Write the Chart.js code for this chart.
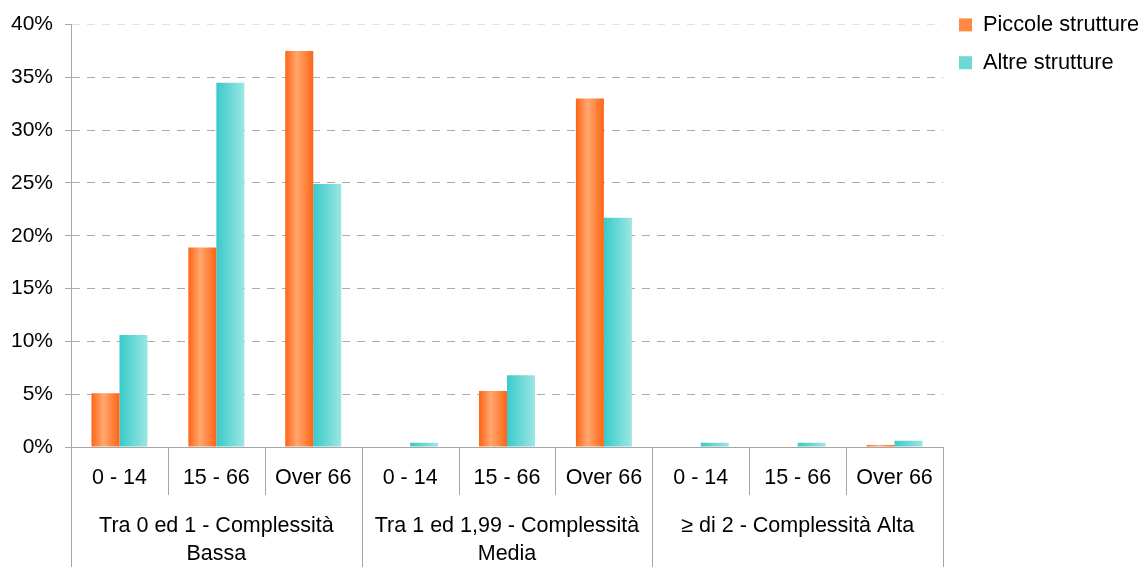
<!DOCTYPE html>
<html lang="it">
<head>
<meta charset="utf-8">
<title>Distribuzione per complessità e fascia d'età</title>
<script src="https://cdn.jsdelivr.net/npm/chart.js@4.4.1/dist/chart.umd.min.js"></script>
<style>
  html, body { margin: 0; padding: 0; background: #ffffff; }
  #wrap { width: 1141px; height: 567px; position: relative; }
</style>
</head>
<body>
<div id="wrap"><canvas id="chart"></canvas></div>
<script>
// Age bands, repeated inside each complexity group
const ageBands = ['0 - 14', '15 - 66', 'Over 66', '0 - 14', '15 - 66', 'Over 66', '0 - 14', '15 - 66', 'Over 66'];
// Complexity groups (second label row)
const complexityGroups = [
  ['Tra 0 ed 1 - Complessità', 'Bassa'],
  ['Tra 1 ed 1,99 - Complessità', 'Media'],
  '≥ di 2 - Complessità Alta'
];
// Shares, in percent
const piccoleStrutture = [5.1, 18.9, 37.5, 0, 5.3, 33.0, 0, 0, 0.2];
const altreStrutture   = [10.6, 34.5, 24.9, 0.4, 6.8, 21.7, 0.4, 0.4, 0.6];
const seriesNames = ['Piccole strutture', 'Altre strutture'];
// Y axis range and step, in percent
const yMin = 0, yMax = 40, yStep = 5;

const FONT = "'Liberation Sans', Arial, sans-serif";
const AXIS_GREY = '#a6a6a6';
const BANDS_PER_GROUP = 3;

// Horizontal shading for each bar (cylinder-like highlight)
const orangeShade = [[0, '#ff6414'], [0.42, '#ffa86f'], [1, '#ff6414']];
const cyanShade   = [[0, '#38caca'], [1, '#9ce7e4']];

const barShade = {
  id: 'barShade',
  beforeDatasetsDraw(chart) {
    const ctx = chart.ctx;
    chart.data.datasets.forEach((ds, di) => {
      const stops = di === 0 ? orangeShade : cyanShade;
      chart.getDatasetMeta(di).data.forEach(bar => {
        const l = bar.x - bar.width / 2, r = bar.x + bar.width / 2;
        const g = ctx.createLinearGradient(l, 0, r, 0);
        stops.forEach(([s, c]) => g.addColorStop(s, c));
        bar.options = Object.assign({}, bar.options, { backgroundColor: g });
      });
    });
  }
};

// Category separators below the axis: short ones between age bands,
// full-height ones between complexity groups.
const categoryDividers = {
  id: 'categoryDividers',
  afterDraw(chart) {
    const xs = chart.scales.x, xg = chart.scales.x2;
    const ctx = chart.ctx;
    const n = xs.ticks.length;
    const half = (xs.getPixelForValue(1) - xs.getPixelForValue(0)) / 2;
    ctx.save();
    ctx.strokeStyle = AXIS_GREY;
    ctx.lineWidth = 1;
    for (let i = 0; i <= n; i++) {
      const px = Math.round(i < n ? xs.getPixelForValue(i) - half : xs.getPixelForValue(n - 1) + half) + 0.5;
      const bottom = i % BANDS_PER_GROUP === 0 ? xg.bottom : xs.bottom;
      ctx.beginPath();
      ctx.moveTo(px, xs.top);
      ctx.lineTo(px, bottom);
      ctx.stroke();
    }
    ctx.restore();
  }
};

new Chart(document.getElementById('chart'), {
  type: 'bar',
  data: {
    labels: ageBands,
    datasets: [
      { label: seriesNames[0], data: piccoleStrutture, backgroundColor: '#ff8843', borderWidth: 0 },
      { label: seriesNames[1], data: altreStrutture, backgroundColor: '#6dd8d6', borderWidth: 0 }
    ]
  },
  plugins: [barShade, categoryDividers],
  options: {
    responsive: true,
    maintainAspectRatio: false,
    animation: false,
    devicePixelRatio: 1,
    layout: { padding: { top: -2, left: -1, right: 0, bottom: 0 } },
    datasets: { bar: { categoryPercentage: 0.578, barPercentage: 1 } },
    plugins: {
      tooltip: { enabled: false },
      title: {
        display: true, text: ' ', fullSize: false, padding: 0,
        font: { family: FONT, size: 10, lineHeight: '25px' }
      },
      legend: {
        position: 'right',
        align: 'start',
        maxWidth: 198,
        labels: {
          boxWidth: 13, boxHeight: 13, padding: 16,
          color: '#000000',
          font: { family: FONT, size: 21.8 }
        }
      }
    },
    scales: {
      x: {
        position: 'bottom',
        weight: 0,
        offset: true,
        grid: {
          offset: true, drawOnChartArea: false, drawTicks: true,
          tickLength: 14, tickColor: 'rgba(0,0,0,0)', color: 'rgba(0,0,0,0)', lineWidth: 1
        },
        border: { display: true, color: AXIS_GREY, width: 1 },
        ticks: {
          color: '#000000', autoSkip: false, maxRotation: 0, minRotation: 0,
          padding: 0,
          font: { family: FONT, size: 21.5, lineHeight: '34px' }
        }
      },
      x2: {
        type: 'category',
        position: 'bottom',
        weight: 1,
        labels: complexityGroups,
        offset: true,
        grid: {
          offset: true, drawOnChartArea: false, drawTicks: true,
          tickLength: 18, tickColor: 'rgba(0,0,0,0)', color: 'rgba(0,0,0,0)', lineWidth: 1
        },
        border: { display: false },
        ticks: {
          color: '#000000', autoSkip: false, maxRotation: 0, minRotation: 0,
          padding: -1,
          font: { family: FONT, size: 21.5, lineHeight: '28px' }
        }
      },
      y: {
        min: yMin, max: yMax,
        grid: {
          color: c => (c.tick && c.tick.value === yMax ? '#e2e2e2' : '#acacac'),
          lineWidth: 1,
          tickLength: 6, tickColor: AXIS_GREY, tickWidth: 1, tickBorderDash: []
        },
        border: { display: true, color: AXIS_GREY, width: 1, dash: [8, 7] },
        ticks: {
          stepSize: yStep, padding: 12, color: '#000000',
          font: { family: FONT, size: 21 },
          callback: v => v + '%'
        }
      }
    }
  }
});
</script>
</body>
</html>
